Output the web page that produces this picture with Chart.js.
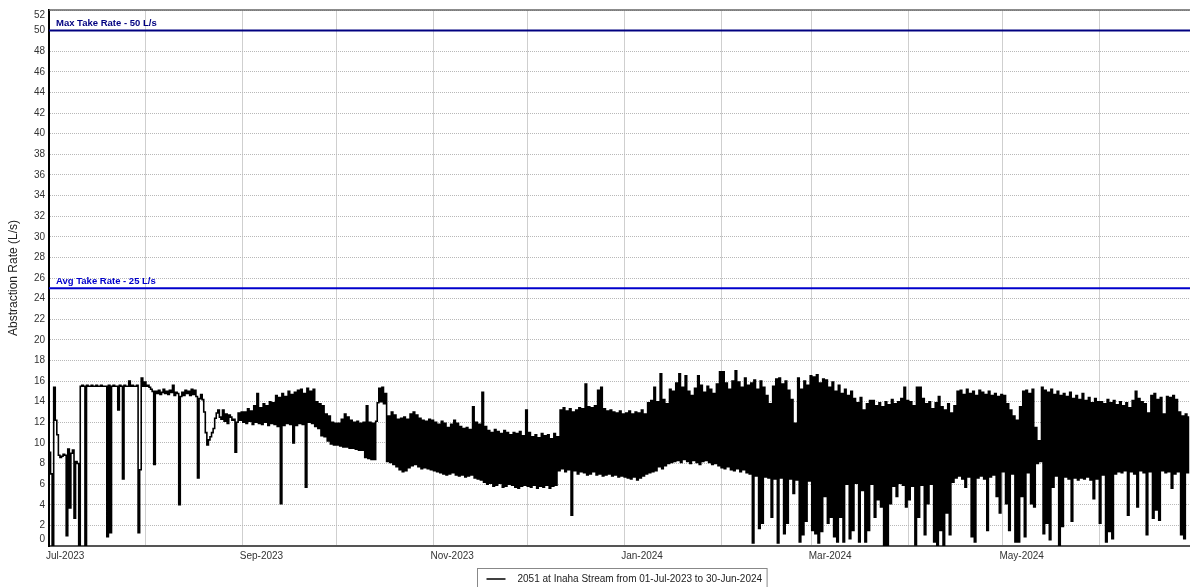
<!DOCTYPE html>
<html>
<head>
<meta charset="utf-8">
<script src="https://cdn.jsdelivr.net/npm/chart.js@4.4.0/dist/chart.umd.min.js"></script>
<style>
  body { margin: 0; background: #fff; }
  #wrap { width: 1190px; height: 587px; }
</style>
</head>
<body>
<div id="wrap"><canvas id="chart" width="1190" height="587"></canvas></div>
<script>
// days since 01-Jul-2023 for the first of each month
const monthStarts = [0, 31, 62, 92, 123, 153, 184, 215, 244, 275, 305, 336];
const monthLabels = ['Jul-2023', 'Aug-2023', 'Sep-2023', 'Oct-2023', 'Nov-2023', 'Dec-2023',
  'Jan-2024', 'Feb-2024', 'Mar-2024', 'Apr-2024', 'May-2024', 'Jun-2024'];
const lastDay = 365;

// abstraction rate (L/s), two readings per day (morning, evening)
const flowJul = [9.1,7.0, 0,15.4, 12.2,10.8, 8.8,8.6, 8.7,8.9, 8.8,1.0, 9.4,3.7, 9.0,9.3, 2.7,8.2, 8.0,0,
  15.5,15.6, 15.5,0, 15.6,15.5, 15.5,15.6, 15.5,15.5, 15.6,15.5, 15.5,15.6, 15.5,15.5, 15.5,0.9, 15.6,1.3,
  15.5,15.6, 15.5,15.5, 13.2,15.6, 15.5,6.5, 15.6,15.5, 15.5,16.0, 15.5,15.6, 15.5,15.5, 15.6,1.3, 7.4,16.3,
  15.5,15.9];
const flowAug = [15.5,15.6, 15.4,15.2, 15.0,7.9, 15.0,14.8, 15.1,14.7, 14.9,15.2, 14.8,15.0, 14.7,15.1, 14.9,15.6, 14.6,14.9,
  14.8,4.0, 14.5,14.9, 14.6,15.1, 14.8,15.0, 14.6,15.2, 14.7,15.1, 14.5,6.6, 14.3,14.7, 14.2,13.0, 11.0,9.8,
  10.3,10.6, 11.0,11.4, 12.4,12.9, 13.2,12.5, 12.3,13.2, 12.1,12.8, 11.9,12.7, 12.5,12.2, 12.3,9.1, 12.0,12.9,
  12.2,13.0];
const flowSep = [12.0,13.0, 11.9,13.3, 12.1,13.1, 11.8,13.6, 12.0,14.8, 11.9,13.4, 11.8,13.8, 12.0,13.6, 11.7,14.0, 11.9,13.9,
  11.8,14.6, 11.6,14.4, 4.1,14.8, 11.7,14.5, 11.9,15.0, 11.8,14.7, 10.0,14.9, 11.7,15.1, 11.9,15.2, 11.8,14.8,
  5.7,15.3, 12.0,15.0, 11.9,15.2, 11.6,14.0, 11.4,13.8, 10.7,13.6, 10.6,12.8, 10.2,12.6, 9.9,12.0, 9.8,11.9];
const flowOct = [9.8,11.9, 9.7,12.3, 9.6,12.8, 9.6,12.5, 9.5,12.2, 9.5,12.0, 9.4,12.1, 9.3,11.9, 9.3,12.0, 8.6,13.6,
  8.5,12.0, 8.4,11.9, 8.4,12.1, 13.9,15.3, 14.0,15.4, 13.8,14.8, 8.2,12.6, 8.1,13.0, 7.9,12.7, 7.7,12.3,
  7.4,12.4, 7.2,12.5, 7.3,12.3, 7.6,12.8, 7.8,13.0, 7.9,12.7, 7.7,12.4, 7.5,12.2, 7.6,12.1, 7.5,12.3,
  7.4,12.2];
const flowNov = [7.3,12.0, 7.2,11.8, 7.1,12.1, 7.0,11.9, 6.9,11.5, 7.0,11.8, 7.1,12.2, 6.9,11.9, 6.8,11.6, 6.9,11.4,
  6.7,11.5, 6.8,11.3, 6.9,13.5, 6.6,12.0, 6.5,11.8, 6.4,14.9, 6.2,11.6, 6.0,11.2, 6.1,11.0, 5.8,11.3,
  5.9,11.1, 6.1,10.9, 5.7,11.2, 5.8,11.0, 6.0,10.8, 5.9,11.0, 5.7,10.9, 5.6,11.1, 5.8,10.7, 5.9,13.2];
const flowDec = [5.8,11.0, 5.7,10.6, 5.9,10.8, 5.6,10.5, 5.8,10.9, 5.7,10.7, 5.9,10.8, 5.6,10.4, 5.8,10.9, 5.9,10.6,
  7.3,13.2, 7.5,13.4, 7.2,13.1, 7.4,13.3, 3.0,13.0, 7.3,13.2, 7.0,13.4, 7.2,13.3, 7.1,15.7, 6.9,13.5,
  7.0,13.4, 7.2,13.6, 6.9,15.1, 7.0,15.4, 6.8,13.3, 6.9,13.1, 7.0,13.2, 6.8,13.0, 6.9,12.9, 6.7,13.1,
  6.8,12.8];
const flowJan = [6.7,12.9, 6.6,13.1, 6.5,12.8, 6.7,13.0, 6.4,12.9, 6.6,13.2, 6.8,12.8, 7.0,13.9, 7.1,14.1, 7.2,15.4,
  7.3,14.0, 7.7,16.7, 7.5,14.2, 7.8,13.8, 8.0,15.2, 8.1,15.0, 8.2,15.8, 8.3,16.7, 8.1,15.4, 8.4,16.5,
  8.2,15.0, 8.0,14.6, 8.3,15.3, 8.1,16.5, 7.9,15.6, 8.2,14.9, 8.3,15.5, 8.1,15.2, 7.9,14.8, 8.0,15.7,
  7.8,16.9];
const flowFeb = [7.6,16.9, 7.5,15.8, 7.7,15.2, 7.4,16.0, 7.3,17.0, 7.5,15.9, 7.2,15.4, 7.4,16.3, 7.1,15.6, 7.0,15.8,
  0.3,16.1, 6.8,15.2, 1.7,16.0, 2.2,15.4, 6.7,14.6, 6.6,13.8, 2.8,15.5, 6.5,16.2, 0.3,16.3, 6.6,15.7,
  1.2,16.0, 2.2,15.1, 6.5,14.2, 5.1,11.9, 6.4,16.3, 0.4,15.2, 1.1,16.0, 2.4,15.6, 6.3,16.5];
const flowMar = [1.5,16.4, 1.2,16.6, 0.3,15.8, 1.4,16.2, 4.8,16.1, 2.2,15.4, 2.8,15.9, 0.9,15.0, 0.4,15.6, 2.8,14.8,
  0.4,15.2, 6.0,14.6, 0.7,15.0, 1.5,14.3, 6.1,13.9, 0.4,14.4, 5.4,13.2, 0.4,13.8, 1.5,14.1, 6.0,14.1,
  2.8,13.6, 4.5,13.9, 3.8,13.5, 0,14.0, 0,13.7, 4.1,14.2, 5.8,13.8, 4.8,14.0, 6.1,14.3, 5.9,15.4,
  3.8,14.1];
const flowApr = [4.5,14.0, 5.8,13.6, 0.1,15.4, 2.8,15.4, 5.9,14.3, 1.1,13.8, 4.1,14.0, 6.0,13.3, 0.4,13.9, 0,14.5,
  1.5,13.5, 0,13.2, 3.2,13.8, 1.1,12.9, 6.2,13.6, 6.6,15.0, 6.8,15.1, 6.5,14.7, 5.7,15.2, 6.7,14.8,
  0.9,15.0, 0.4,14.6, 6.6,15.1, 6.8,14.9, 6.5,14.7, 1.5,15.0, 6.7,14.6, 6.9,14.8, 4.8,14.5, 3.2,14.7];
const flowMay = [7.2,14.6, 4.1,13.8, 1.5,13.2, 7.0,12.6, 0.4,12.2, 0.4,13.5, 4.8,15.0, 0.9,15.1, 7.1,14.8, 4.1,15.2,
  3.8,11.5, 8.0,10.2, 8.2,15.4, 1.2,15.1, 2.2,14.9, 0.6,15.2, 5.7,14.7, 6.8,15.0, 0,14.6, 1.9,14.8,
  6.7,14.5, 6.5,14.9, 2.4,14.3, 6.6,14.6, 6.4,14.2, 6.6,14.8, 6.5,14.1, 6.7,14.4, 6.4,13.9, 4.6,14.3,
  6.5,14.0];
const flowJun = [2.2,14.0, 6.9,13.8, 0.4,14.2, 1.4,13.9, 0.7,14.1, 7.0,13.7, 7.2,14.0, 7.1,13.6, 7.3,13.9, 3.0,13.4,
  7.2,14.1, 7.0,15.0, 3.8,14.3, 7.3,14.0, 7.1,13.8, 1.1,12.9, 7.2,14.6, 2.7,14.8, 3.5,14.2, 2.5,14.4,
  7.3,12.8, 7.1,14.5, 7.2,14.4, 5.6,14.6, 7.0,14.2, 7.2,13.0, 1.1,12.6, 0.7,12.8, 7.1,12.5];

const limitValues = [50, 25];
const limitNames = ['Max Take Rate - 50 L/s', 'Avg Take Rate - 25 L/s'];
const seriesName = '2051 at Inaha Stream from 01-Jul-2023 to 30-Jun-2024';
const yMin = 0;
const yMax = 52;

const months = [flowJul, flowAug, flowSep, flowOct, flowNov, flowDec, flowJan, flowFeb, flowMar, flowApr, flowMay, flowJun];
const flowPoints = [];
months.forEach((vals, m) => {
  vals.forEach((v, i) => {
    flowPoints.push({ x: monthStarts[m] + (i + 0.5) / 2, y: v });
  });
});

const limitColours = ['#000080', '#0000cc'];
const FONT = '"Liberation Sans", Arial, sans-serif';

const refLabels = {
  id: 'refLabels',
  afterDatasetsDraw(chart) {
    const ctx = chart.ctx;
    const y = chart.scales.y;
    ctx.save();
    ctx.font = 'bold 9.5px ' + FONT;
    ctx.textAlign = 'left';
    ctx.textBaseline = 'bottom';
    limitValues.forEach((v, i) => {
      ctx.fillStyle = limitColours[i];
      ctx.fillText(limitNames[i], chart.chartArea.left + 7, y.getPixelForValue(v) - 2);
    });
    // end labels of the y axis sit inside the frame
    ctx.font = '10px ' + FONT;
    ctx.fillStyle = '#333';
    ctx.textAlign = 'right';
    ctx.textBaseline = 'middle';
    ctx.fillText(String(yMax), chart.chartArea.left - 4, y.getPixelForValue(yMax) + 5);
    ctx.fillText(String(yMin), chart.chartArea.left - 4, y.getPixelForValue(yMin) - 7);
    ctx.restore();
  }
};

const frameAndLegend = {
  id: 'frameAndLegend',
  afterDraw(chart) {
    const ctx = chart.ctx;
    const a = chart.chartArea;
    ctx.save();
    // top frame
    ctx.strokeStyle = '#666';
    ctx.lineWidth = 1.5;
    ctx.beginPath();
    ctx.moveTo(a.left, a.top);
    ctx.lineTo(a.right, a.top);
    ctx.stroke();

    // legend box
    ctx.font = '10px ' + FONT;
    const tw = ctx.measureText(seriesName).width;
    const w = tw + 45;
    const left = Math.round((a.left + a.right) / 2 - w / 2) + 2.5;
    const top = 568.5;
    ctx.strokeStyle = '#888';
    ctx.lineWidth = 1;
    ctx.strokeRect(left, top, w, 30);
    ctx.strokeStyle = '#000';
    ctx.lineWidth = 1.5;
    ctx.beginPath();
    ctx.moveTo(left + 9, 579);
    ctx.lineTo(left + 28, 579);
    ctx.stroke();
    ctx.fillStyle = '#222';
    ctx.textBaseline = 'middle';
    ctx.fillText(seriesName, left + 40, 579.5);
    ctx.restore();
  }
};

Chart.defaults.font.family = FONT;
Chart.defaults.font.size = 10;
Chart.defaults.color = '#333';

const chart = new Chart(document.getElementById('chart').getContext('2d'), {
  type: 'line',
  data: {
    datasets: [
      {
        label: seriesName,
        data: flowPoints,
        borderColor: '#000',
        borderWidth: 1.6,
        pointRadius: 0,
        stepped: 'middle',
        order: 0
      },
      ...limitValues.map((v, i) => ({
        label: limitNames[i],
        data: [{ x: 0, y: v }, { x: lastDay, y: v }],
        borderColor: limitColours[i],
        borderWidth: 2,
        pointRadius: 0,
        order: 1
      }))
    ]
  },
  options: {
    responsive: false,
    animation: false,
    parsing: false,
    layout: { padding: { top: 9, right: 0, bottom: 21, left: 0 } },
    plugins: {
      legend: { display: false },
      tooltip: { enabled: false }
    },
    scales: {
      x: {
        type: 'linear',
        min: 0,
        max: lastDay,
        afterBuildTicks(scale) {
          scale.ticks = monthStarts.map(v => ({ value: v }));
        },
        afterFit(scale) { scale.height = 20; },
        ticks: {
          autoSkip: false,
          maxRotation: 0,
          align: 'start',
          labelOffset: -3,
          padding: 4,
          callback(value, index) {
            return index % 2 === 0 ? monthLabels[index] : '';
          }
        },
        grid: { color: '#cfcfcf', lineWidth: 1, drawTicks: false },
        border: { color: '#555', width: 2 }
      },
      y: {
        min: yMin,
        max: yMax,
        afterFit(scale) { scale.width = 49; },
        ticks: {
          stepSize: 2,
          autoSkip: false,
          padding: 4,
          callback(value) {
            return value === yMin || value === yMax ? '' : value;
          }
        },
        title: {
          display: true,
          text: 'Abstraction Rate (L/s)',
          color: '#222',
          font: { size: 12 },
          padding: { top: 6, bottom: 0 }
        },
        grid: { color: '#b8b8b8', lineWidth: 1, drawTicks: false },
        border: { color: '#000', width: 2, dash: [1, 1] }
      }
    }
  },
  plugins: [refLabels, frameAndLegend]
});
</script>
</body>
</html>
